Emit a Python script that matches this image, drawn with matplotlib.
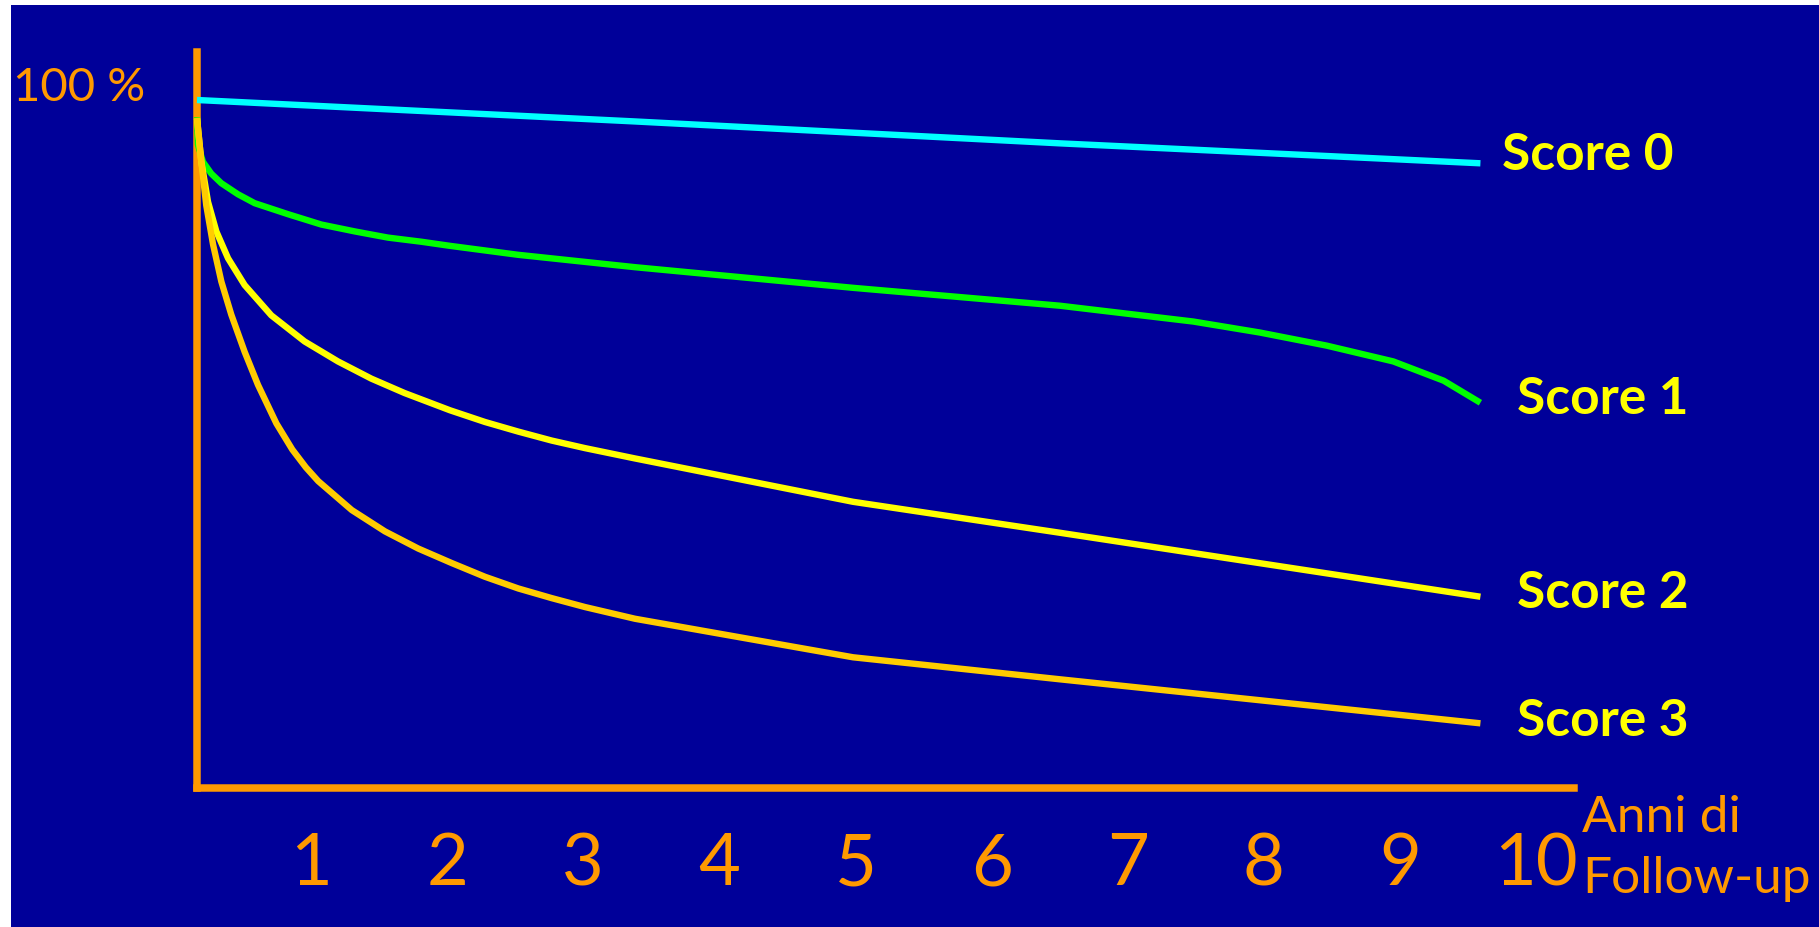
import matplotlib.pyplot as plt
from matplotlib.patches import Rectangle
from matplotlib.transforms import ScaledTranslation

plt.rcParams['font.family'] = 'Lato'

BG = '#000099'
AXIS = '#FF9900'

# survival curves (years of follow-up, % event-free)
years_s0 = [0, 3.2, 6.34, 9.43]
surv_s0 = [100, 96.9, 93.7, 90.8]

years_s1 = [0, 0.007, 0.044, 0.105, 0.179, 0.301, 0.424, 0.669, 0.913, 1.159,
            1.403, 1.648, 1.859, 2.359, 3.218, 4.82, 6.34, 7.32, 7.81, 8.30,
            8.79, 9.16, 9.43]
surv_s1 = [97.5, 93.5, 91.0, 89.3, 87.9, 86.3, 85.0, 83.4, 81.9, 80.9,
           80.0, 79.4, 78.8, 77.5, 75.7, 72.7, 70.1, 67.8, 66.2, 64.3,
           62.0, 59.2, 56.0]

years_s2 = [0, 0.032, 0.081, 0.142, 0.228, 0.350, 0.546, 0.791, 1.036, 1.281,
            1.526, 1.859, 2.116, 2.361, 2.606, 2.851, 3.218, 4.82, 6.34, 9.43]
surv_s2 = [97.3, 91.0, 85.2, 80.9, 77.0, 73.1, 68.7, 64.9, 62.0, 59.5,
           57.4, 54.9, 53.2, 51.8, 50.5, 49.4, 47.9, 41.6, 37.1, 27.8]

years_s3 = [0, 0.032, 0.068, 0.118, 0.179, 0.252, 0.350, 0.448, 0.583, 0.70,
            0.80, 0.891, 1.137, 1.381, 1.626, 1.871, 2.116, 2.361, 2.606, 2.851,
            3.218, 4.82, 6.34, 9.43]
surv_s3 = [97.4, 91.0, 84.7, 79.0, 73.6, 68.8, 63.4, 58.6, 53.0, 49.2,
           46.6, 44.6, 40.4, 37.3, 34.8, 32.7, 30.7, 29.0, 27.6, 26.3,
           24.6, 19.0, 15.8, 9.4]

series = [
    (years_s0, surv_s0, '#00FFFF', 'Score 0'),
    (years_s1, surv_s1, '#00FF00', 'Score 1'),
    (years_s2, surv_s2, '#FFFF00', 'Score 2'),
    (years_s3, surv_s3, '#FFCC00', 'Score 3'),
]
label_y = [92.0, 56.4, 28.3, 9.6]
label_x = [9.59, 9.70, 9.70, 9.70]

tick_years = [1, 2, 3, 4, 5, 6, 7, 8, 9, 10]

W, H = 1819, 927
fig = plt.figure(figsize=(W / 100, H / 100), dpi=100)
fig.patch.set_facecolor('white')
fig.add_artist(Rectangle((11 / W, 0), 1 - 11 / W, (H - 5) / H,
                         transform=fig.transFigure, facecolor=BG,
                         edgecolor='none', zorder=0))

ax = fig.add_axes([197 / W, (H - 788) / H, (1574 - 197) / W, (788 - 52) / H])
ax.patch.set_visible(False)
ax.set_xlim(0, (1574 - 197) / 136.1)
ax.set_ylim(0, (788 - 52) / 6.88)

for side in ['top', 'right']:
    ax.spines[side].set_visible(False)
for side in ['left', 'bottom']:
    ax.spines[side].set_color(AXIS)
    ax.spines[side].set_linewidth(5.4)
    ax.spines[side].set_capstyle('projecting')
    ax.spines[side].set_zorder(2)

for (x, y, color, name), ly, lx in zip(series, label_y, label_x):
    ax.plot(x, y, color=color, lw=4.6, solid_capstyle='butt',
            solid_joinstyle='round', zorder=3, clip_on=False)
    ax.text(lx, ly, name, color='#FFFF00', fontsize=37, fontweight='bold',
            ha='left', va='center', clip_on=False)

ax.set_yticks([])
ax.set_xticks(tick_years)
ax.set_xticklabels([str(t) for t in tick_years])
ax.tick_params(axis='x', length=0, pad=32, labelsize=52, labelcolor=AXIS)
shift = ScaledTranslation(-0.22, 0, fig.dpi_scale_trans)
for lab in ax.get_xticklabels():
    lab.set_transform(lab.get_transform() + shift)

ax.text(-0.38, 101.7, '100 %', color=AXIS, fontsize=34,
        ha='right', va='center', clip_on=False)
ax.text(10.18, -1.0, 'Anni di\nFollow-up', color=AXIS, fontsize=37,
        ha='left', va='top', linespacing=1.42, clip_on=False)

fig.savefig('out.png', dpi=100, facecolor=fig.get_facecolor())
